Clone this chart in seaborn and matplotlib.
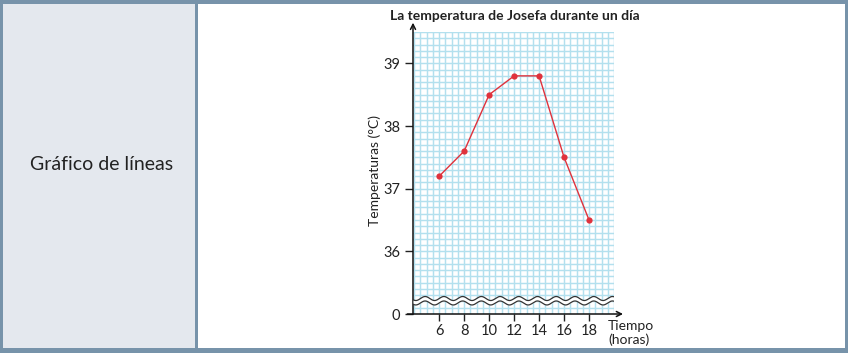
import numpy as np
import matplotlib
matplotlib.use("Agg")
import matplotlib.pyplot as plt
from matplotlib.patches import Rectangle
import seaborn as sns

# Data
horas = [6, 8, 10, 12, 14, 16, 18]
temperaturas = [37.2, 37.6, 38.5, 38.8, 38.8, 37.5, 36.5]
y_ticks = [35, 36, 37, 38, 39]
y_tick_labels = ["0", "36", "37", "38", "39"]

titulo = "La temperatura de Josefa durante un día"
etiqueta_y = "Temperaturas (°C)"
etiqueta_x = "Tiempo\n(horas)"
celda_izq = "Gráfico de líneas"

sns.set_style("white")
plt.rcParams['font.family'] = ['Lato', 'DejaVu Sans']

W, H = 848, 353
fig = plt.figure(figsize=(W / 100, H / 100), dpi=100)
fig.patch.set_facecolor("white")

border = "#7793aa"
gray_cell = "#e4e8ee"
grid_col = "#b3e0ee"
txt = "#222222"


def px_rect(x0, y0, x1, y1, color):
    # rectangle given in pixel coords (top-left origin)
    fig.add_artist(Rectangle((x0 / W, 1 - y1 / H), (x1 - x0) / W, (y1 - y0) / H,
                             transform=fig.transFigure, facecolor=color,
                             edgecolor="none", zorder=0))


# --- table frame ---
px_rect(0, 0, 195, H, gray_cell)
px_rect(0, 0, W, 4, border)
px_rect(0, 348, W, H, border)
px_rect(0, 0, 3, H, border)
px_rect(845, 0, W, H, border)
px_rect(195, 0, 198, H, border)

fig.text(102 / W, 1 - 165 / H, celda_izq, ha="center", va="center",
         fontsize=14, color=txt)

# --- chart axes ---
ax_l, ax_r, ax_t, ax_b = 413, 614, 32, 314
ax = fig.add_axes([ax_l / W, 1 - ax_b / H, (ax_r - ax_l) / W, (ax_b - ax_t) / H])
ax.set_facecolor("white")

xmin, xmax, ymin, ymax = 3.9, 20.0, 35, 39.5

# squared paper background
for gx in np.arange(4.0, xmax + 0.01, 0.5):
    ax.axvline(gx, color=grid_col, lw=1.05, zorder=1)
for gy in np.arange(ymin + 0.1, ymax + 0.01, 0.1):
    ax.axhline(gy, color=grid_col, lw=1.05, zorder=1)

sns.lineplot(x=horas, y=temperaturas, ax=ax, color="#e0323c", linewidth=1,
             marker="o", markersize=4.5, markeredgewidth=0, zorder=5)

ax.set_xlim(xmin, xmax)
ax.set_ylim(ymin, ymax)
ax.grid(False)

ax.set_xticks(horas)
ax.set_xticklabels([str(h) for h in horas])
ax.set_yticks(y_ticks)
ax.set_yticklabels(y_tick_labels)
ax.tick_params(axis="x", which="major", direction="out", length=5, width=1,
               pad=2, labelsize=10.5, colors=txt, bottom=True)
ax.tick_params(axis="y", which="major", direction="out", length=6, width=1,
               pad=3, labelsize=10.5, colors=txt, left=True)

for s in ax.spines.values():
    s.set_visible(False)

# axis arrows
ax.annotate("", xy=(0, 1.033), xytext=(0, 0), xycoords="axes fraction",
            arrowprops=dict(arrowstyle="->", lw=1.1, color="#111111",
                            shrinkA=0, shrinkB=0, mutation_scale=9))
ax.annotate("", xy=(1.045, 0), xytext=(-0.028, 0), xycoords="axes fraction",
            arrowprops=dict(arrowstyle="->", lw=1.1, color="#111111",
                            shrinkA=0, shrinkB=0, mutation_scale=9))

# axis break (wavy lines)
xw = np.linspace(xmin, xmax, 600)
wave = 0.032 * np.sin(2 * np.pi * xw / 1.5)
ax.fill_between(xw, 35.176 + wave, 35.247 + wave, color="white", zorder=3, lw=0)
ax.plot(xw, 35.247 + wave, color="#333333", lw=0.9, zorder=4)
ax.plot(xw, 35.176 + wave, color="#333333", lw=0.9, zorder=4)

# labels
fig.text(514.5 / W, 1 - 16 / H, titulo, ha="center", va="center",
         fontsize=10, fontweight="bold", color=txt)
fig.text(375 / W, 1 - 171 / H, etiqueta_y, ha="center", va="center",
         rotation=90, fontsize=10, color=txt)
fig.text(608 / W, 1 - 333 / H, etiqueta_x, ha="left", va="center",
         fontsize=10, color=txt, linespacing=1.05)

fig.savefig("out.png", dpi=100)
